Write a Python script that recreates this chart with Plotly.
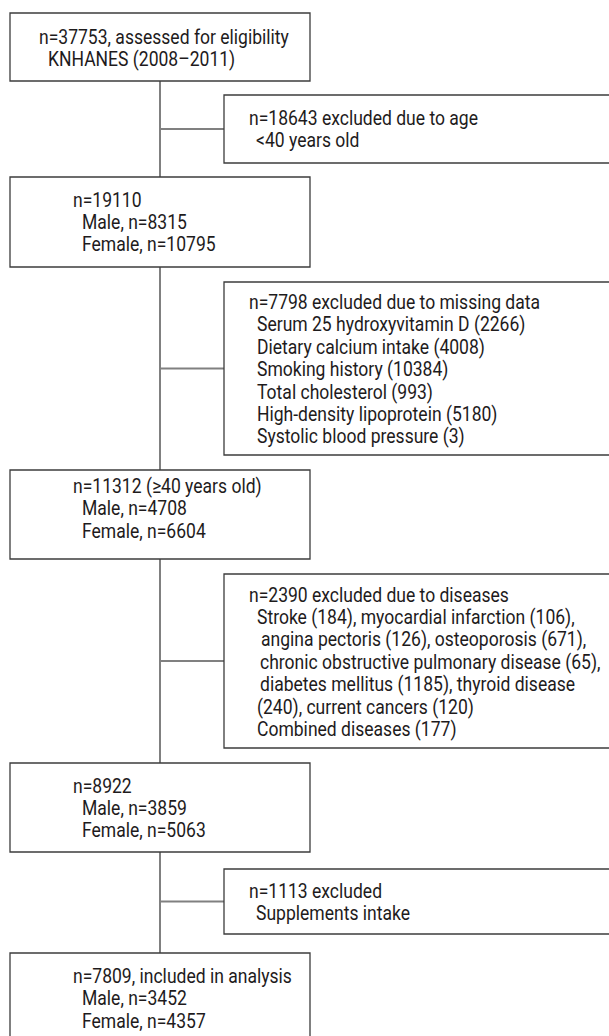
import plotly.graph_objects as go

# ---------------- data (text content of the flow chart) ----------------
main_boxes = [
    ["n=37753, assessed for eligibility", "KNHANES (2008–2011)"],
    ["n=19110", "Male, n=8315", "Female, n=10795"],
    ["n=11312 (≥40 years old)", "Male, n=4708", "Female, n=6604"],
    ["n=8922", "Male, n=3859", "Female, n=5063"],
    ["n=7809, included in analysis", "Male, n=3452", "Female, n=4357"],
]
excluded_boxes = [
    ["n=18643 excluded due to age", "<40 years old"],
    ["n=7798 excluded due to missing data",
     "Serum 25 hydroxyvitamin D (2266)",
     "Dietary calcium intake (4008)",
     "Smoking history (10384)",
     "Total cholesterol (993)",
     "High-density lipoprotein (5180)",
     "Systolic blood pressure (3)"],
    ["n=2390 excluded due to diseases",
     "Stroke (184), myocardial infarction (106),",
     "angina pectoris (126), osteoporosis (671),",
     "chronic obstructive pulmonary disease (65),",
     "diabetes mellitus (1185), thyroid disease",
     "(240), current cancers (120)",
     "Combined diseases (177)"],
    ["n=1113 excluded", "Supplements intake"],
]

# ---------------- layout (geometry / styling) ----------------
W, H = 609, 1036
main_geom = [  # x0, x1, y0, y1, first-line x, first-line y
    (10, 310, 13, 81, 38, 36.5),
    (10, 310, 177, 267, 72, 199.5),
    (10, 310, 470, 559, 72, 486),
    (10, 310, 763, 852, 72, 785.5),
    (10, 310, 953, 1048, 72, 976),
]
excl_geom = [
    (224, 640, 95, 163, 248, 118),
    (224, 640, 282, 455, 248, 302),
    (224, 640, 574, 748, 248, 594.5),
    (224, 640, 869, 934, 248, 890.5),
]
excl_indent = [
    [0, 7],
    [0, 8, 8, 8, 8, 8, 8],
    [0, 8, 12, 11, 11, 8, 8],
    [0, 7],
]
LINE_H = 22.4
VX = 160
FONT = dict(family="Roboto, Liberation Sans, sans-serif", size=20.5, color="#1e1b1c")
CONDENSE = 0.855  # horizontal squeeze to mimic the condensed typeface
BOX_COLOR = "#3c3c3c"
CONN_COLOR = "#808080"

fig = go.Figure()
shapes = []
annotations = []

# vertical connectors between main boxes
for a, b in zip(main_geom[:-1], main_geom[1:]):
    shapes.append(dict(type="line", x0=VX, x1=VX, y0=a[3], y1=b[2],
                       line=dict(color=CONN_COLOR, width=2), xref="x", yref="y"))
# horizontal connectors to exclusion boxes
for g in excl_geom:
    ym = (g[2] + g[3]) / 2
    shapes.append(dict(type="line", x0=VX, x1=g[0], y0=ym, y1=ym,
                       line=dict(color=CONN_COLOR, width=2), xref="x", yref="y"))


def add_box(g, lines, indents):
    x0, x1, y0, y1, tx, ty = g
    shapes.append(dict(type="rect", x0=x0, x1=x1, y0=y0, y1=y1,
                       line=dict(color=BOX_COLOR, width=1.3), fillcolor="white",
                       xref="x", yref="y"))
    for i, t in enumerate(lines):
        annotations.append(dict(x=tx + indents[i], y=ty + i * LINE_H, text=t,
                                xref="x", yref="y", xanchor="left", yanchor="middle",
                                align="left", showarrow=False, font=FONT, borderpad=0))


for g, lines in zip(main_geom, main_boxes):
    ind = [0] + [9] * (len(lines) - 1)
    add_box(g, lines, ind)
for g, lines, ind in zip(excl_geom, excluded_boxes, excl_indent):
    add_box(g, lines, ind)

fig.update_layout(
    width=W, height=H, margin=dict(l=0, r=0, t=0, b=0),
    paper_bgcolor="white", plot_bgcolor="white",
    xaxis=dict(range=[0, W], visible=False, fixedrange=True),
    yaxis=dict(range=[H, 0], visible=False, fixedrange=True),
    shapes=shapes, annotations=annotations, showlegend=False,
)

post = (
    "document.body.style.margin='0';document.body.style.overflow='hidden';"
    "document.querySelectorAll('text.annotation-text').forEach(function(t){"
    "var L=t.getComputedTextLength();"
    "var bb=t.getBBox();var x0=bb.x;"
    "t.setAttribute('textLength',(L*%(c)s).toFixed(2));"
    "t.setAttribute('lengthAdjust','spacingAndGlyphs');"
    "var bb2=t.getBBox();"
    "var dx=x0-bb2.x;"
    "if(Math.abs(dx)>0.1){var cx=parseFloat(t.getAttribute('x')||0);t.setAttribute('x',(cx+dx).toFixed(2));}"
    "var g=t.parentNode;if(g){g.querySelectorAll('rect').forEach(function(r){"
    "var w=parseFloat(r.getAttribute('width')||0);if(w>0){r.setAttribute('width',(w*%(c)s).toFixed(2));}});}"
    "});" % {"c": CONDENSE}
)
fig.write_html("out.html", config={"displayModeBar": False}, post_script=post)
